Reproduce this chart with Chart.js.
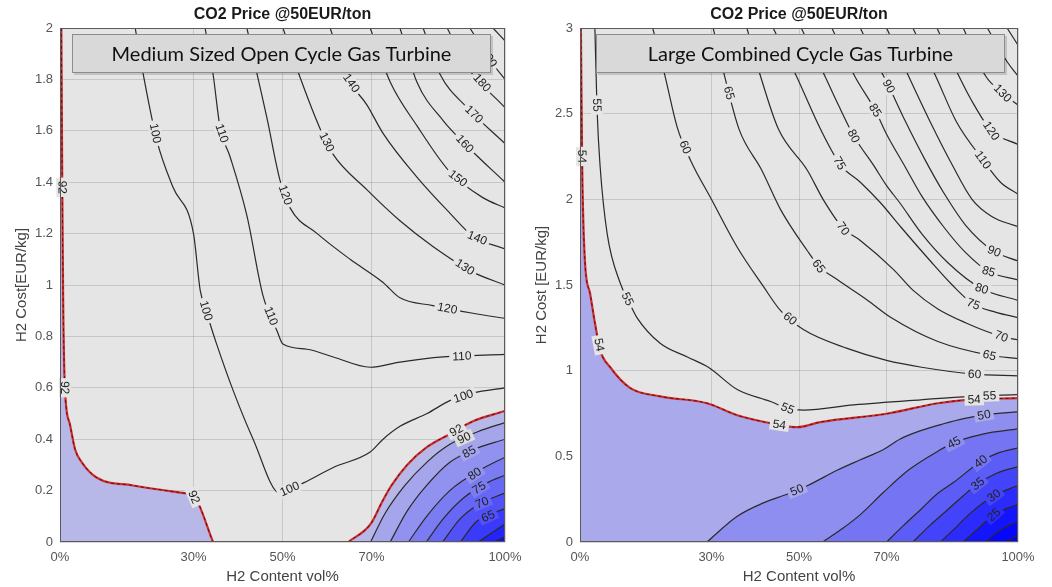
<!DOCTYPE html>
<html>
<head>
<meta charset="utf-8">
<script src="https://cdn.jsdelivr.net/npm/chart.js@4.4.1/dist/chart.umd.min.js"></script>
<style>
  html, body { margin: 0; padding: 0; background: #fff; }
  #wrap { position: relative; width: 1052px; height: 587px; }
  .box { position: absolute; top: 0; height: 587px; }
  #boxOcgt { left: 0; width: 540px; }
  #boxCcgt { left: 520px; width: 532px; }
</style>
</head>
<body>
<div id="wrap">
  <div class="box" id="boxOcgt"><canvas id="ocgtChart"></canvas></div>
  <div class="box" id="boxCcgt"><canvas id="ccgtChart"></canvas></div>
</div>
<script>
// ---- axis ticks ----
const xTicks = [0, 30, 50, 70, 100];
const ocgtYTicks = [0, 0.2, 0.4, 0.6, 0.8, 1, 1.2, 1.4, 1.6, 1.8, 2];
const ccgtYTicks = [0, 0.5, 1, 1.5, 2, 2.5, 3];

// ---- Medium OCGT contours: [H2 content %, H2 cost EUR/kg] ----
const ocgt92Left = [[0.3,2.0],[0.5,1.4],[0.7,0.95],[1.1,0.6],[2.2,0.46],[3.4,0.36],[4.9,0.31],[8.3,0.25],[16.4,0.22],[28,0.19],[30,0.18],[34.4,0]];
const ocgt92Right = [[64.8,0],[69.8,0.07],[72.5,0.16],[74.5,0.22],[78,0.3],[82.5,0.37],[87.6,0.42],[92.8,0.47],[100,0.51]];
const ocgt90 = [[69.8,0],[73,0.11],[77.5,0.22],[82.4,0.31],[87.6,0.38],[94,0.43],[100,0.465]];
const ocgt85 = [[74.2,0],[78,0.12],[82.4,0.22],[87.6,0.31],[93,0.36],[100,0.40]];
const ocgt80 = [[78.3,0],[82.4,0.10],[87.6,0.20],[94.4,0.28],[100,0.33]];
const ocgt75 = [[82.3,0],[86.1,0.09],[90.6,0.17],[95.9,0.23],[100,0.26]];
const ocgt70 = [[86,0],[89.9,0.09],[94.4,0.15],[100,0.19]];
const ocgt65 = [[90,0],[93.6,0.08],[100,0.13]];
const ocgt60 = [[94,0],[100,0.07]];
const ocgt55 = [[97.5,0],[100,0.02]];
const ocgt100 = [[16.9,2.0],[18.7,1.82],[21.8,1.56],[25.4,1.38],[30,1.2],[31.5,0.98],[33.7,0.85],[35.2,0.77],[38.9,0.59],[43.4,0.40],[49.4,0.19],[54.7,0.23],[61.4,0.29],[69.7,0.35],[72.6,0.40],[76.4,0.45],[82.5,0.50],[87.6,0.55],[92.8,0.58],[100,0.60]];
const ocgt110 = [[32.6,2.0],[34.4,1.82],[36,1.61],[38.2,1.5],[42,1.27],[45.6,0.96],[48.8,0.82],[50.1,0.77],[55.5,0.75],[61.4,0.72],[69.7,0.68],[76.4,0.70],[86.1,0.72],[100,0.73]];
const ocgt120 = [[42,2.0],[44.3,1.82],[46.5,1.65],[49.4,1.41],[51.7,1.30],[57.8,1.2],[65.2,1.10],[72.6,1.01],[76.4,0.95],[83.8,0.92],[92.8,0.89],[100,0.87]];
const ocgt130 = [[50.1,2.0],[53.9,1.81],[58.4,1.61],[61.3,1.51],[69,1.37],[76.4,1.25],[83.8,1.15],[92.8,1.05],[100,1.0]];
const ocgt140 = [[60.7,2.0],[64.5,1.81],[69,1.70],[72.6,1.59],[80.2,1.42],[87.6,1.28],[92.8,1.19],[100,1.14]];
const ocgt150 = [[69.7,2.0],[74.2,1.79],[80.2,1.62],[87.6,1.44],[95,1.34],[100,1.30]];
const ocgt160 = [[76.4,2.0],[80.2,1.79],[86.1,1.64],[91.5,1.54],[100,1.40]];
const ocgt170 = [[81.6,2.0],[85.4,1.82],[91.5,1.69],[100,1.55]];
const ocgt180 = [[87,2.0],[91.5,1.85],[100,1.69]];
const ocgt190 = [[92.1,2.0],[97.3,1.86],[100,1.80]];
const ocgt200 = [[97.3,2.0],[100,1.95]];

// ---- Large CCGT contours ----
const ccgt54 = [[0.2,3.0],[0.5,2.19],[1.1,1.65],[2.3,1.45],[3.4,1.28],[4.6,1.12],[6.9,1.02],[11.4,0.90],[18.3,0.85],[29,0.81],[35.9,0.74],[44.2,0.69],[49.6,0.67],[54.9,0.70],[70.3,0.75],[81.7,0.81],[88.3,0.83],[100,0.84]];
const ccgt50 = [[29,0],[35.9,0.15],[42,0.23],[47.4,0.28],[52,0.33],[58.8,0.42],[64,0.48],[69.3,0.54],[73,0.6],[77.8,0.65],[83,0.69],[87.6,0.72],[93,0.745],[100,0.76]];
const ccgt45 = [[55.4,0],[60,0.08],[64,0.16],[69.3,0.29],[75,0.42],[81.7,0.53],[85.4,0.58],[92,0.63],[100,0.66]];
const ccgt40 = [[70,0],[74,0.1],[77.8,0.19],[81.5,0.28],[85.4,0.35],[91.5,0.47],[95.5,0.52],[100,0.55]];
const ccgt35 = [[76,0],[80,0.1],[84,0.19],[87.5,0.27],[90.8,0.34],[95,0.4],[100,0.44]];
const ccgt30 = [[82.3,0],[86,0.09],[89.2,0.17],[94.5,0.27],[100,0.33]];
const ccgt25 = [[87.5,0],[91,0.08],[94.5,0.16],[100,0.22]];
const ccgt20 = [[92.6,0],[96,0.07],[100,0.12]];
const ccgt15 = [[97.2,0],[100,0.04]];
const ccgt55 = [[3.4,3.0],[3.9,2.52],[4.6,2.19],[6.2,1.80],[9.2,1.51],[11.4,1.39],[13,1.31],[18.3,1.16],[24.5,1.08],[29.3,1.02],[35.9,0.89],[43.5,0.82],[47.4,0.78],[51,0.77],[62.5,0.80],[77.8,0.83],[89.2,0.85],[100,0.86]];
const ccgt60 = [[16.6,3.0],[19.4,2.72],[22.2,2.42],[25.2,2.23],[30,2.0],[35.9,1.72],[41.9,1.49],[45.8,1.35],[51,1.24],[61,1.13],[70,1.06],[78,1.02],[90,0.98],[100,0.97]];
const ccgt65 = [[30.4,3.0],[33,2.72],[36.3,2.41],[41.5,2.17],[45.8,1.94],[51.9,1.70],[54.5,1.61],[58.8,1.53],[65.7,1.41],[71,1.31],[81.7,1.17],[93.5,1.09],[100,1.07]];
const ccgt70 = [[38.1,3.0],[41.2,2.72],[45.3,2.41],[51.9,2.17],[55.5,2.0],[60.1,1.83],[64,1.76],[71.6,1.59],[76,1.47],[81.7,1.36],[88,1.28],[96.2,1.20],[100,1.18]];
const ccgt75 = [[44.1,3.0],[49.4,2.72],[54.9,2.41],[59.5,2.2],[64,2.1],[68.6,1.98],[73.2,1.84],[80,1.64],[85,1.50],[89.7,1.39],[95,1.34],[100,1.31]];
const ccgt80 = [[50.5,3.0],[55.9,2.72],[59,2.55],[62.5,2.37],[67,2.2],[70,2.08],[73,1.98],[78,1.8],[84,1.63],[91.6,1.48],[100,1.41]];
const ccgt85 = [[57.5,3.0],[62.7,2.72],[67.4,2.52],[70,2.38],[74,2.2],[78,2.02],[83,1.84],[88,1.69],[93.2,1.58],[100,1.53]];
const ccgt90 = [[64,3.0],[68.5,2.76],[70.5,2.66],[74,2.47],[79,2.22],[83,2.04],[88,1.85],[94.3,1.70],[100,1.64]];
const ccgt100 = [[70,3.0],[75,2.72],[80,2.45],[85,2.2],[89.5,2.0],[94,1.9],[100,1.84]];
const ccgt110 = [[76,3.0],[81.2,2.72],[86,2.45],[92,2.23],[96,2.1],[100,2.03]];
const ccgt120 = [[81.5,3.0],[86.5,2.72],[90,2.55],[93.9,2.4],[100,2.32]];
const ccgt130 = [[87.5,3.0],[92.6,2.72],[96.5,2.62],[100,2.55]];
const ccgt140 = [[93,3.0],[97.6,2.8],[100,2.72]];
const ccgt150 = [[97.5,3.0],[100,2.9]];

// ---- inline contour labels: [text, contour, x, y] ----
const ocgtLabels = [
  ['92','ocgt92Left',0.45,1.38], ['92','ocgt92Left',0.9,0.6], ['92','ocgt92Left',29.5,0.17],
  ['100','ocgt100',21.3,1.59], ['100','ocgt100',32.8,0.9], ['100','ocgt100',51.5,0.21], ['100','ocgt100',90.6,0.57],
  ['110','ocgt110',36.4,1.59], ['110','ocgt110',47.5,0.88], ['110','ocgt110',90.3,0.725],
  ['120','ocgt120',50.6,1.35], ['120','ocgt120',87,0.905],
  ['130','ocgt130',59.2,1.55], ['130','ocgt130',91,1.07],
  ['140','ocgt140',65.8,1.79], ['140','ocgt140',93.7,1.18],
  ['150','ocgt150',89.2,1.41], ['160','ocgt160',91,1.55], ['170','ocgt170',92.8,1.66],
  ['180','ocgt180',94.4,1.78], ['190','ocgt190',96,1.88],
  ['92','ocgt92Right',89.2,0.43], ['90','ocgt90',90.8,0.405], ['85','ocgt85',92.1,0.345],
  ['80','ocgt80',92.8,0.275], ['75','ocgt75',94,0.215], ['70','ocgt70',94.8,0.155], ['65','ocgt65',96.2,0.1]
];
const ccgtLabels = [
  ['54','ccgt54',0.4,2.25], ['54','ccgt54',4.2,1.15], ['54','ccgt54',45.5,0.68], ['54','ccgt54',90,0.83],
  ['55','ccgt55',3.7,2.55], ['55','ccgt55',11,1.42], ['55','ccgt55',47.4,0.78], ['55','ccgt55',93.5,0.86],
  ['60','ccgt60',23.6,2.3], ['60','ccgt60',47.5,1.29], ['60','ccgt60',90.1,0.98],
  ['65','ccgt65',34,2.62], ['65','ccgt65',54.5,1.61], ['65','ccgt65',93.5,1.09],
  ['70','ccgt70',60.1,1.83], ['70','ccgt70',96.2,1.2],
  ['75','ccgt75',58.5,2.2], ['75','ccgt75',89.7,1.38],
  ['80','ccgt80',62.5,2.37], ['80','ccgt80',91.6,1.47],
  ['85','ccgt85',67.4,2.52], ['85','ccgt85',93.2,1.57],
  ['90','ccgt90',70.5,2.66], ['90','ccgt90',94.3,1.68],
  ['110','ccgt110',92,2.23], ['120','ccgt120',93.9,2.4], ['130','ccgt130',96.5,2.62],
  ['50','ccgt50',49.6,0.3], ['50','ccgt50',92.2,0.745], ['45','ccgt45',85.4,0.58],
  ['40','ccgt40',91.5,0.47], ['35','ccgt35',90.8,0.34], ['30','ccgt30',94.5,0.27], ['25','ccgt25',94.5,0.16]
];

const FONT = '"Liberation Sans", Arial, sans-serif';
const gridColor = 'rgba(150,150,150,0.38)';

function pts(a) { return a.map(p => ({ x: p[0], y: p[1] })); }

function contourLine(name, arr) {
  return { label: name, data: pts(arr), borderColor: '#2a2a2a', borderWidth: 1.2,
    pointRadius: 0, fill: false, cubicInterpolationMode: 'monotone', order: 5 };
}
function redLine(name, arr) {
  return [
    { label: name, data: pts(arr), borderColor: '#d42b2b', borderWidth: 2.2,
      pointRadius: 0, fill: false, cubicInterpolationMode: 'monotone', order: 3 },
    { label: name + ':dash', data: pts(arr), borderColor: '#4a1818', borderWidth: 1,
      borderDash: [3, 3], pointRadius: 0, fill: false, cubicInterpolationMode: 'monotone', order: 2 }
  ];
}
// filled band under a contour (drawn outer first, inner on top)
function band(arr, color, depth, lead) {
  const d = lead ? [lead].concat(arr) : arr;
  return { label: 'fill' + depth, data: pts(d), borderWidth: 0, borderColor: 'rgba(0,0,0,0)',
    backgroundColor: color, pointRadius: 0, fill: 'origin',
    cubicInterpolationMode: 'monotone', order: 100 - depth };
}

// plot background, frame, titles, caption box
const plotFrame = {
  id: 'plotFrame',
  beforeDraw(chart) {
    const { ctx, chartArea: a } = chart;
    ctx.save();
    ctx.fillStyle = '#e5e5e5';
    ctx.fillRect(a.left, a.top, a.right - a.left, a.bottom - a.top);
    ctx.restore();
  },
  afterDraw(chart, args, o) {
    const { ctx, chartArea: a } = chart;
    ctx.save();
    ctx.strokeStyle = '#5a5a5a';
    ctx.lineWidth = 1;
    ctx.strokeRect(a.left + 0.5, a.top + 0.5, a.right - a.left - 1, a.bottom - a.top - 1);

    const cx = (a.left + a.right) / 2;
    ctx.fillStyle = '#1a1a1a';
    ctx.textAlign = 'center';
    ctx.textBaseline = 'middle';
    ctx.font = 'bold 16px ' + FONT;
    ctx.fillText('CO2 Price @50EUR/ton', cx, 15);

    ctx.fillStyle = '#444';
    ctx.font = '15px ' + FONT;
    ctx.fillText('H2 Content vol%', cx, a.bottom + 35);
    ctx.save();
    ctx.translate(a.left - 38, (a.top + a.bottom) / 2);
    ctx.rotate(-Math.PI / 2);
    ctx.fillText(o.yTitle, 0, 0);
    ctx.restore();

    const bx = a.left + o.boxL, by = a.top + 6, bw = a.right - o.boxR - bx, bh = 39;
    ctx.fillStyle = 'rgba(0,0,0,0.15)';
    ctx.fillRect(bx + 2, by + 2, bw, bh);
    ctx.fillStyle = '#d9d9d9';
    ctx.fillRect(bx, by, bw, bh);
    ctx.strokeStyle = '#8c8c8c';
    ctx.strokeRect(bx + 0.5, by + 0.5, bw - 1, bh - 1);
    ctx.fillStyle = '#111';
    ctx.font = '20px Lato, "Open Sans", sans-serif';
    ctx.fillText(o.boxText, bx + bw / 2, by + bh / 2 + 1);
    ctx.restore();
  }
};

// MATLAB-like inline contour labels
const contourLabels = {
  id: 'contourLabels',
  afterDatasetsDraw(chart, args, o) {
    const { ctx, chartArea: a } = chart;
    const xs = chart.scales.x, ys = chart.scales.y;
    ctx.save();
    ctx.font = '12px ' + FONT;
    ctx.textAlign = 'center';
    ctx.textBaseline = 'middle';
    for (const [text, name, vx, vy] of (o.items || [])) {
      const idx = chart.data.datasets.findIndex(d => d.label === name);
      if (idx < 0) continue;
      const el = chart.getDatasetMeta(idx).data;
      const px = xs.getPixelForValue(vx), py = ys.getPixelForValue(vy);
      let best = null;
      for (let i = 0; i < el.length - 1; i++) {
        const p = el[i], q = el[i + 1];
        const dx = q.x - p.x, dy = q.y - p.y;
        const L = dx * dx + dy * dy || 1;
        let t = ((px - p.x) * dx + (py - p.y) * dy) / L;
        t = Math.max(0, Math.min(1, t));
        const qx = p.x + t * dx, qy = p.y + t * dy;
        const d = (qx - px) ** 2 + (qy - py) ** 2;
        if (!best || d < best.d) best = { d, qx, qy, ang: Math.atan2(dy, dx) };
      }
      if (!best) continue;
      let ang = best.ang;
      if (ang > Math.PI / 2) ang -= Math.PI;
      if (ang < -Math.PI / 2) ang += Math.PI;
      const nx = -Math.sin(ang), ny = Math.cos(ang);
      let bg = null;
      for (const s of [7, -7]) {
        const sx = Math.round(best.qx + nx * s), sy = Math.round(best.qy + ny * s);
        if (sx <= a.left + 1 || sx >= a.right - 1 || sy <= a.top + 1 || sy >= a.bottom - 1) continue;
        const c = ctx.getImageData(sx, sy, 1, 1).data;
        if (!bg || c[0] + c[1] + c[2] > bg[0] + bg[1] + bg[2]) bg = c;
      }
      const w = ctx.measureText(text).width;
      ctx.save();
      ctx.translate(best.qx, best.qy);
      ctx.rotate(ang);
      if (bg) {
        ctx.fillStyle = `rgb(${bg[0]},${bg[1]},${bg[2]})`;
        ctx.fillRect(-w / 2 - 3, -6, w + 6, 12);
      }
      ctx.fillStyle = '#222';
      ctx.fillText(text, 0, 0.5);
      ctx.restore();
    }
    ctx.restore();
  }
};

function makeScales(yTicks, yMax) {
  return {
    x: {
      type: 'linear', min: 0, max: 100, z: 1,
      afterFit(s) { s.height = 45; },
      afterBuildTicks(s) { s.ticks = xTicks.map(v => ({ value: v })); },
      ticks: { callback: v => v + '%', color: '#555', font: { size: 13, family: FONT },
        padding: 8, maxRotation: 0, autoSkip: false },
      grid: { color: gridColor, drawTicks: false },
      border: { display: false }
    },
    y: {
      type: 'linear', min: 0, max: yMax, z: 1,
      afterFit(s) { s.width = 60; },
      afterBuildTicks(s) { s.ticks = yTicks.map(v => ({ value: v })); },
      ticks: { callback: v => String(v), color: '#555', font: { size: 13, family: FONT }, padding: 7 },
      grid: { color: gridColor, drawTicks: false },
      border: { display: false }
    }
  };
}

function makeChart(id, datasets, cfg) {
  return new Chart(document.getElementById(id), {
    type: 'line',
    data: { datasets },
    options: {
      responsive: true, maintainAspectRatio: false, animation: false, events: [],
      layout: { padding: { top: 28, right: cfg.padRight, left: 0, bottom: 0 } },
      scales: makeScales(cfg.yTicks, cfg.yMax),
      plugins: {
        legend: { display: false }, tooltip: { enabled: false },
        contourLabels: { items: cfg.labels },
        plotFrame: { yTitle: cfg.yTitle, boxText: cfg.boxText, boxL: cfg.boxL, boxR: cfg.boxR }
      }
    },
    plugins: [plotFrame, contourLabels]
  });
}

// ---- Medium OCGT ----
const ocgtSets = [
  band(ocgt92Left, '#b7b7e8', 0, [0, 2]),
  band(ocgt92Right, '#b7b7e8', 1),
  band(ocgt90, '#a5a5ec', 2),
  band(ocgt85, '#9191ef', 3),
  band(ocgt80, '#7c7cf2', 4),
  band(ocgt75, '#6767f5', 5),
  band(ocgt70, '#5151f7', 6),
  band(ocgt65, '#3a3afa', 7),
  band(ocgt60, '#2323fc', 8),
  band(ocgt55, '#0c0cff', 9),
  ...redLine('ocgt92Left', ocgt92Left),
  ...redLine('ocgt92Right', ocgt92Right),
  contourLine('ocgt90', ocgt90), contourLine('ocgt85', ocgt85), contourLine('ocgt80', ocgt80),
  contourLine('ocgt75', ocgt75), contourLine('ocgt70', ocgt70), contourLine('ocgt65', ocgt65),
  contourLine('ocgt60', ocgt60), contourLine('ocgt55', ocgt55),
  contourLine('ocgt100', ocgt100), contourLine('ocgt110', ocgt110), contourLine('ocgt120', ocgt120),
  contourLine('ocgt130', ocgt130), contourLine('ocgt140', ocgt140), contourLine('ocgt150', ocgt150),
  contourLine('ocgt160', ocgt160), contourLine('ocgt170', ocgt170), contourLine('ocgt180', ocgt180),
  contourLine('ocgt190', ocgt190), contourLine('ocgt200', ocgt200)
];
makeChart('ocgtChart', ocgtSets, {
  yTicks: ocgtYTicks, yMax: 2, padRight: 35, labels: ocgtLabels,
  yTitle: 'H2 Cost[EUR/kg]', boxText: 'Medium Sized Open Cycle Gas Turbine', boxL: 12, boxR: 14
});

// ---- Large CCGT ----
const ccgtSets = [
  band(ccgt54, '#a9a9ec', 0, [0, 3]),
  band(ccgt50, '#8e8ef0', 1),
  band(ccgt45, '#7575f3', 2),
  band(ccgt40, '#5c5cf6', 3),
  band(ccgt35, '#4343f9', 4),
  band(ccgt30, '#2b2bfb', 5),
  band(ccgt25, '#1515fd', 6),
  band(ccgt20, '#0606ff', 7),
  band(ccgt15, '#0000ff', 8),
  ...redLine('ccgt54', ccgt54),
  contourLine('ccgt50', ccgt50), contourLine('ccgt45', ccgt45), contourLine('ccgt40', ccgt40),
  contourLine('ccgt35', ccgt35), contourLine('ccgt30', ccgt30), contourLine('ccgt25', ccgt25),
  contourLine('ccgt20', ccgt20), contourLine('ccgt15', ccgt15),
  contourLine('ccgt55', ccgt55), contourLine('ccgt60', ccgt60), contourLine('ccgt65', ccgt65),
  contourLine('ccgt70', ccgt70), contourLine('ccgt75', ccgt75), contourLine('ccgt80', ccgt80),
  contourLine('ccgt85', ccgt85), contourLine('ccgt90', ccgt90), contourLine('ccgt100', ccgt100),
  contourLine('ccgt110', ccgt110), contourLine('ccgt120', ccgt120), contourLine('ccgt130', ccgt130),
  contourLine('ccgt140', ccgt140), contourLine('ccgt150', ccgt150)
];
makeChart('ccgtChart', ccgtSets, {
  yTicks: ccgtYTicks, yMax: 3, padRight: 34, labels: ccgtLabels,
  yTitle: 'H2 Cost [EUR/kg]', boxText: 'Large Combined Cycle Gas Turbine', boxL: 16, boxR: 13
});
</script>
</body>
</html>
